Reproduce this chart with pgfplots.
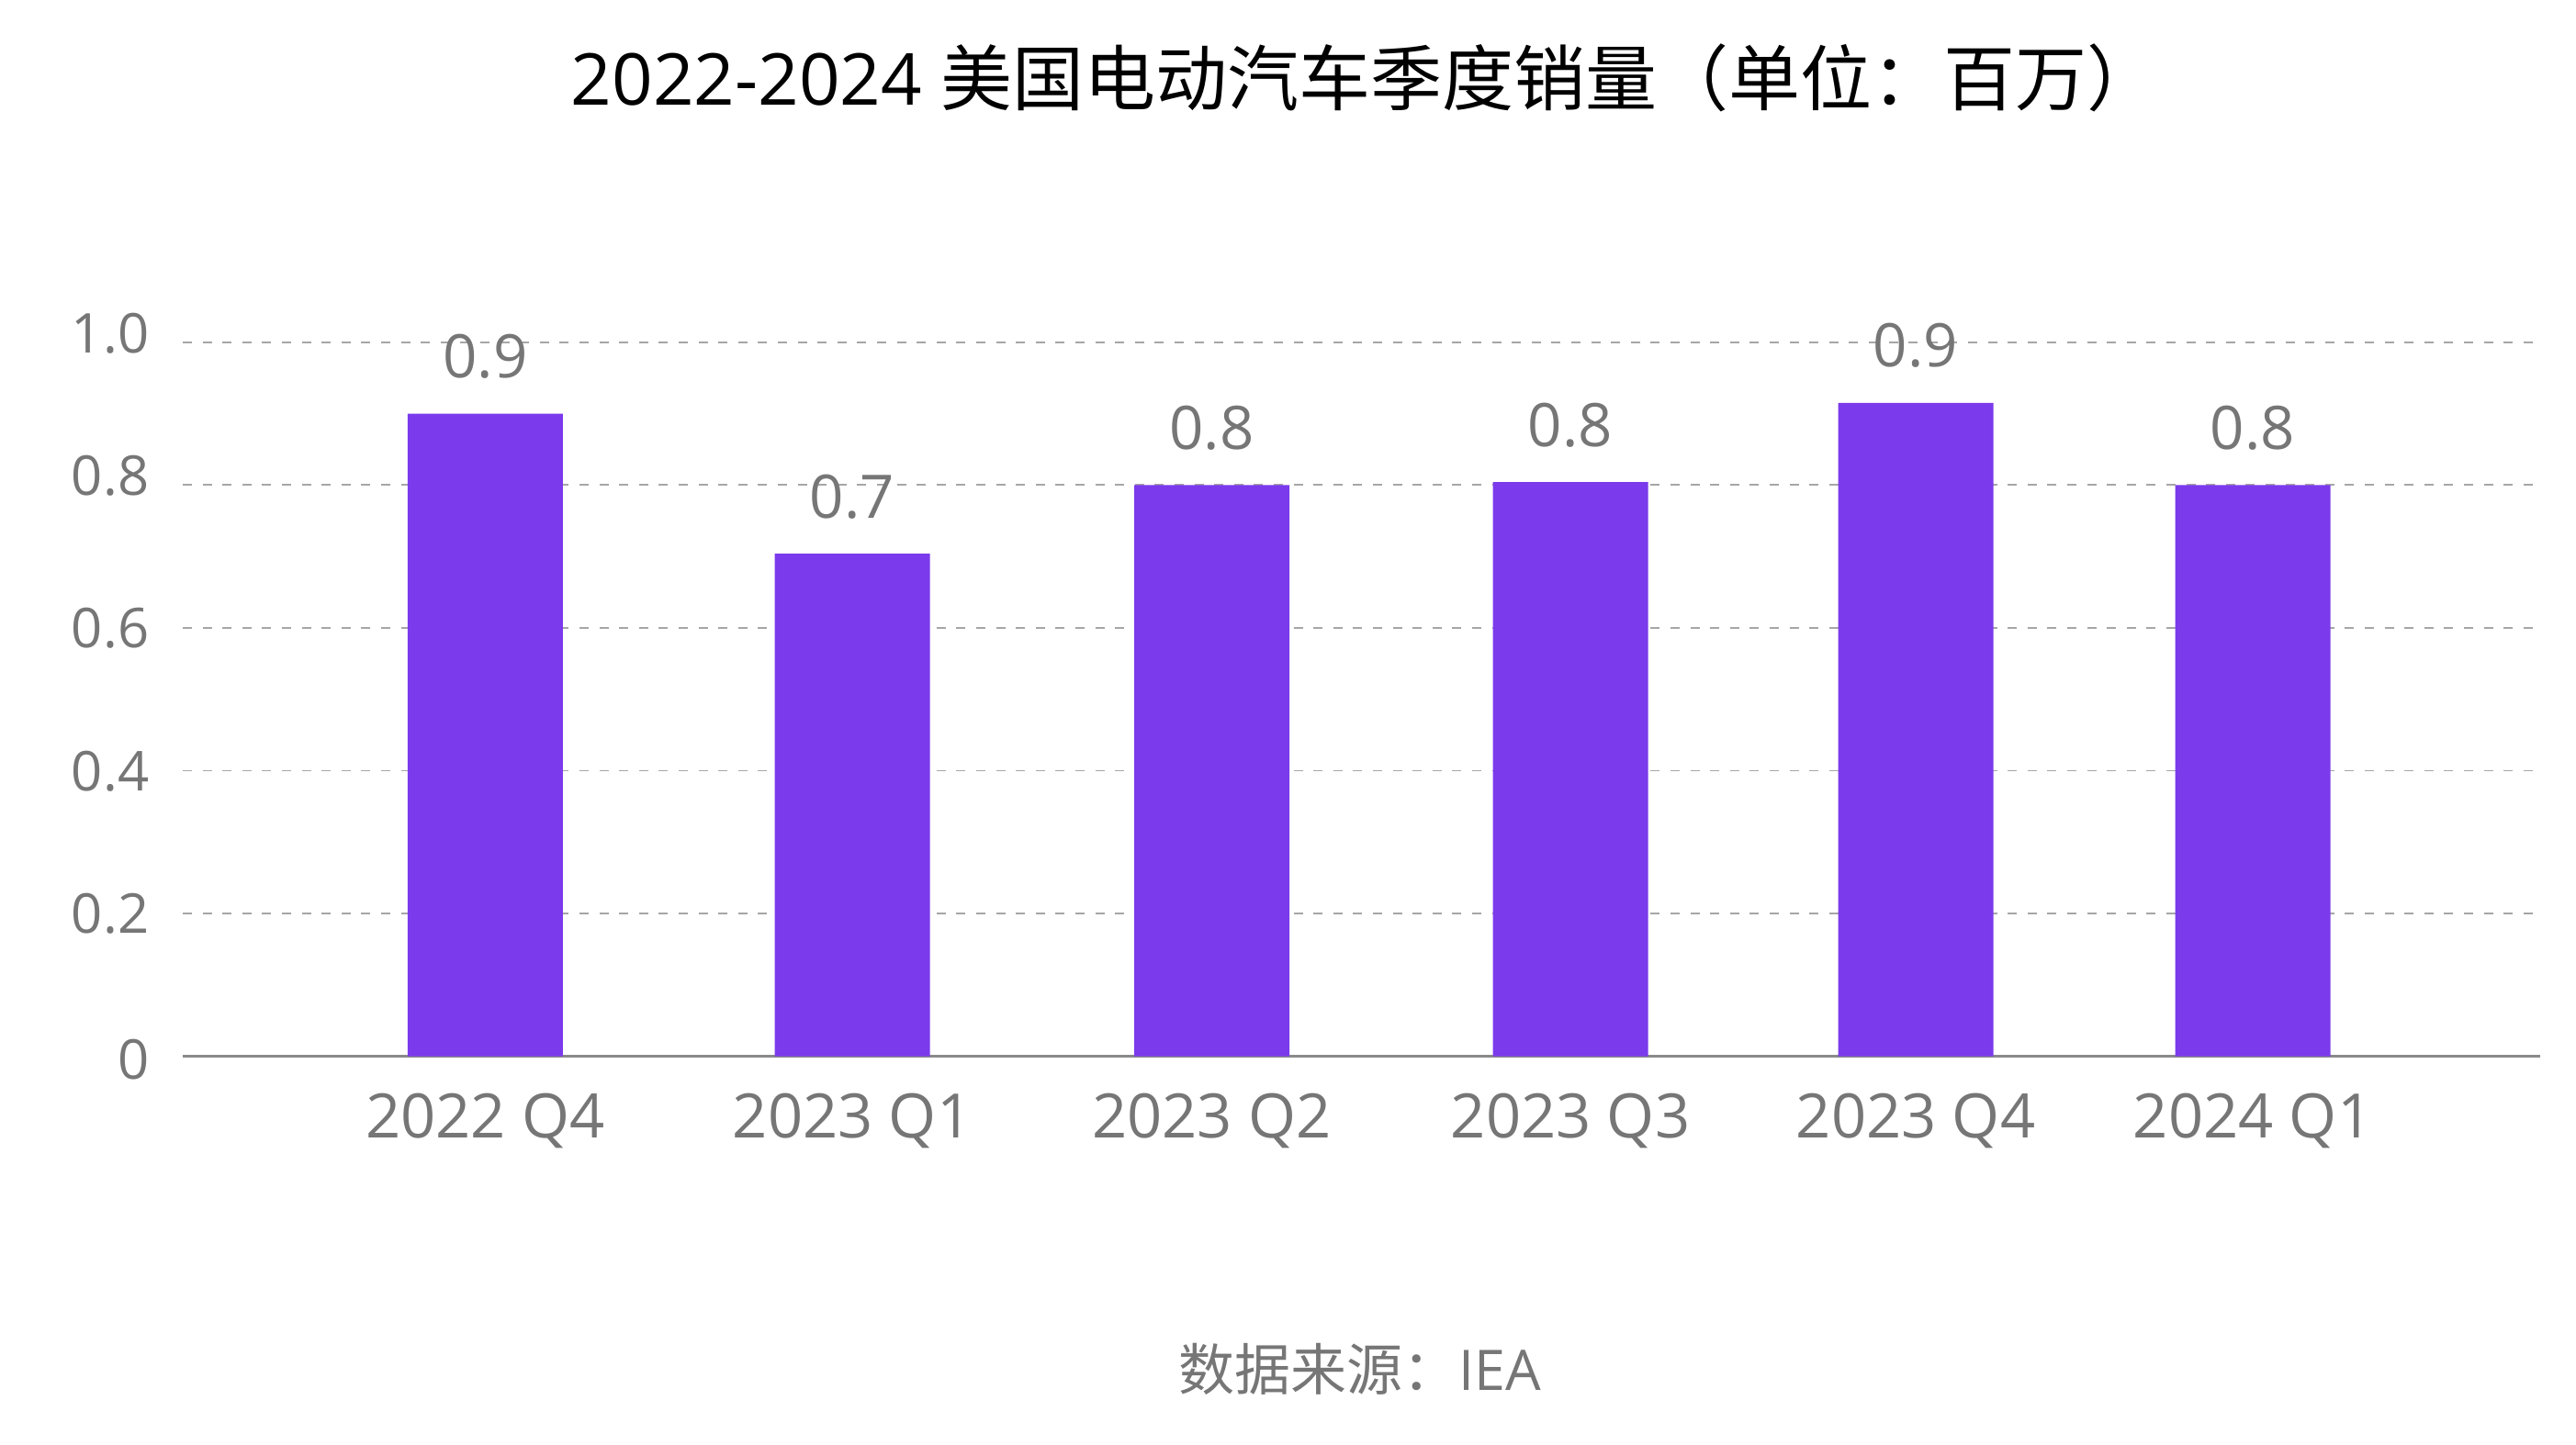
\documentclass[border=0pt]{standalone}
\usepackage{pgfplots}
\pgfplotsset{compat=1.18}
\usepackage{pgfplotstable}
\usepackage{fontspec}
\setmainfont{Open Sans}
\newfontfamily\cjk{Noto Sans CJK SC}

\definecolor{barpurple}{HTML}{7B3AEB}
\definecolor{labelgray}{HTML}{767676}
\definecolor{gridgray}{HTML}{A6A6A6}
\definecolor{axisgray}{HTML}{8A8A8A}

% quarterly US EV sales, millions (x = bar centre position)
\pgfplotstableread{
x      y
528.3  0.900
928.0  0.704
1319.5 0.800
1710.0 0.804
2086.0 0.915
2453.0 0.800
}\salesdata

\begin{document}
\begin{tikzpicture}
\path[use as bounding box] (0,0) rectangle (701.25bp,393.5bp);
\begin{axis}[
  at={(49.75bp,105.85bp)}, anchor=south west,
  scale only axis, width=641.75bp, height=194.45bp,
  xmin=199, xmax=2766, ymin=0, ymax=1,
  clip=false,
  axis x line*=bottom, axis y line*=left,
  x axis line style={draw=axisgray, line width=0.6bp, -},
  y axis line style={draw=none},
  major tick length=0pt,
  tick style={draw=none},
  xtick=data,
  xticklabels={2022 Q4,2023 Q1,2023 Q2,2023 Q3,2023 Q4,2024 Q1},
  ytick={0,0.2,0.4,0.6,0.8,1.0},
  yticklabels={\raisebox{-3.25bp}{0},\raisebox{-2.5bp}{0.2},\raisebox{-2.5bp}{0.4},
    \raisebox{-2.5bp}{0.6},0.8,1.0},
  xticklabel style={font=\fontsize{16.7bp}{20bp}\selectfont, text=labelgray,
    anchor=base, yshift=-22.25bp, inner sep=0pt},
  yticklabel style={font=\fontsize{14.95bp}{18bp}\selectfont, text=labelgray,
    anchor=base east, xshift=-9bp, yshift=-2.9bp, inner sep=0pt},
  ymajorgrids,
  grid style={draw=gridgray, line width=0.45bp, dash pattern=on 2.5bp off 2.9bp},
  nodes near coords={\pgfmathprintnumber[fixed,fixed zerofill,precision=1,assume math mode=true]{\pgfplotspointmeta}},
  every node near coord/.append style={font=\fontsize{16.35bp}{20bp}\selectfont,
    text=labelgray, anchor=base, yshift=9.75bp, inner sep=0pt},
]
\addplot[ybar, bar width=169, fill=barpurple, draw=none] table[x=x, y=y] {\salesdata};
\end{axis}
\node[anchor=base, font=\fontsize{19.5bp}{24bp}\selectfont, text=black]
  at (371.5bp,364.75bp) {2022-2024 {\cjk 美国电动汽车季度销量（单位：百万）}};
\node[anchor=base, font=\fontsize{15.25bp}{18bp}\selectfont, text=labelgray]
  at (370.25bp,15bp) {{\cjk 数据来源：}IEA};
\end{tikzpicture}
\end{document}
